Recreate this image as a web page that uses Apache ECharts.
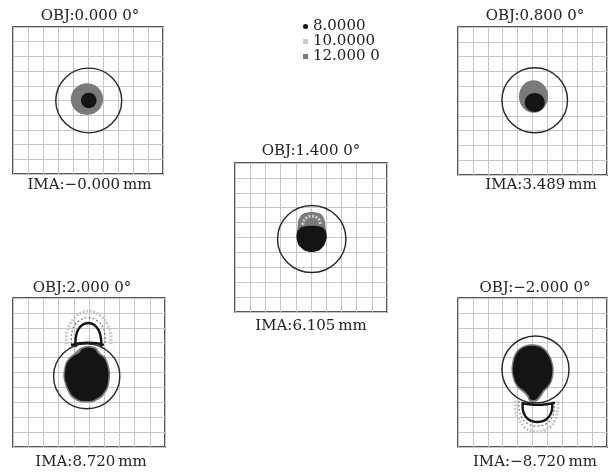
<!DOCTYPE html>
<html>
<head>
<meta charset="utf-8">
<script src="https://cdn.jsdelivr.net/npm/echarts@6/dist/echarts.min.js"></script>
<style>
  html, body { margin: 0; padding: 0; background: #fff; }
  #chart { width: 613px; height: 473px; }
</style>
</head>
<body>
<div id="chart"></div>
<script>
// ---- spot diagram data (units: µm on the image plane) ----
const fieldTitles = ['OBJ:0.000 0°', 'OBJ:0.800 0°', 'OBJ:1.400 0°', 'OBJ:2.000 0°', 'OBJ:\u22122.000 0°'];
const imageHeights = ['IMA:\u22120.000\u2009mm', 'IMA:3.489\u2009mm', 'IMA:6.105\u2009mm', 'IMA:8.720\u2009mm', 'IMA:\u22128.720\u2009mm'];
const wavelengths = ['8.0000', '10.0000', '12.000 0'];
const axisRange = [-50, 50];
const axisStep = 10;

// Airy disk per field: [cx, cy, radius]
const airyDisk = [[0.5, 0, 22], [1.5, 0.5, 22], [0.5, -1, 22.5], [-1.5, -2.5, 21.8], [2, 2, 22.5]];

// Spot shapes per field: ['disk', cx, cy, rx, ry] | ['fill', outline] | ['trace', ray path]
const spots8 = [
  [['disk', 0.5, 0, 5.2, 5.2]],
  [['disk', 1.5, -1, 6.7, 6.4]],
  [['fill', [[0.5, -9.7], [5.5, -8.5], [8.8, -5], [10.3, 0], [9.8, 4], [7.5, 6.8], [3.5, 7.8], [-2.5, 7.8], [-6.5, 6.8], [-9, 4], [-9.5, 0], [-8.2, -5], [-4.5, -8.5]]]],
  [['fill', [[-0.4, 16.8], [3.8, 15.8], [5.5, 13.3], [7.2, 11.8], [9.8, 9.8], [11.6, 6], [12.9, -0.5], [11.8, -9.6], [8, -15.5], [3, -18.6], [-1.5, -19.2], [-6.3, -18.6], [-11, -15.5], [-13.8, -10.6], [-16, -2.8], [-14.6, 6], [-11.8, 9.8], [-9, 11.8], [-6.3, 13.3], [-4.6, 15.8]]],
   ['trace', [[-8.8, 17], [-8.8, 23], [-7.4, 28.3], [-4.3, 32], [-0.5, 33.2], [3.3, 32], [6.4, 28.3], [7.9, 23], [7.9, 17]]],
   ['trace', [[-11.8, 18.3], [-6, 19.6], [-0.5, 20], [5, 19.6], [9.8, 18.5]]]],
  [['fill', [[-0.5, 18], [4.5, 17.2], [8.5, 14.2], [11.5, 9.5], [13.2, 3.9], [13.2, -1], [11.9, -6.2], [9.7, -9.5], [7.2, -11.7], [5, -15.1], [2.5, -18], [0.5, -18.5], [-1.5, -18], [-2.8, -15.1], [-6.2, -11.7], [-9.2, -9.5], [-11.4, -6.2], [-12.9, -1], [-13.2, 2.8], [-12, 9.5], [-9.5, 14.2], [-5, 17.2]]],
   ['trace', [[-6.5, -20], [-6.5, -25], [-4.7, -29.5], [-1, -32.5], [3.3, -33.2], [7.5, -32.5], [11.2, -29.5], [13.1, -25], [13.1, -20]]],
   ['trace', [[-7.2, -20.5], [-1, -21.5], [4, -21.7], [9.5, -21.3], [15, -20.3]]]]
];
const spots10 = [
  [['disk', 0, 0.5, 9, 9]],
  [['disk', 1, 1.5, 8.5, 9.5]],
  [['trace', [[-5.5, 8.5], [-4, 12.3], [0.5, 14.3], [5, 12.3], [6.2, 8.5]]]],
  [['trace', [[-14.8, 19], [-14.8, 26], [-12.6, 32.3], [-8.4, 37.8], [-3.7, 40.6], [-0.5, 41.3], [3.2, 40.6], [7.9, 37.8], [12.1, 32.3], [14.3, 26], [14.3, 19]]]],
  [['trace', [[-11.5, -19], [-11.5, -25], [-9.5, -31], [-5.5, -36.5], [-1, -39], [3, -39.8], [7.5, -39], [12, -36.5], [15.5, -31], [17, -25], [17, -19]]]]
];
const spots12 = [
  [['disk', -0.7, 1, 10.8, 10.8]],
  [['disk', 0.7, 3, 9.8, 11]],
  [['fill', [[-8.5, -3], [-8.8, 8], [-8, 12.5], [-5.5, 15.8], [0.5, 17.2], [6.5, 15.8], [8.7, 12.5], [9.5, 8], [9.3, -3]]]],
  [['fill', [[-0.4, 18], [4.6, 16.8], [7.5, 13], [10.7, 10.5], [12.5, 6.3], [13.9, -0.5], [12.7, -10], [8.7, -16.4], [3.2, -19.6], [-1.5, -20.2], [-6.8, -19.5], [-11.8, -16.2], [-14.7, -11], [-16.9, -2.8], [-15.5, 6.3], [-12.5, 10.5], [-9.6, 13], [-5.3, 16.8]]],
   ['trace', [[-11.5, 19], [-11.5, 25], [-10, 30.8], [-6.3, 34.8], [-0.5, 36.8], [5.3, 34.8], [9, 30.8], [10.5, 25], [10.5, 19]]]],
  [['fill', [[-0.5, 19], [5, 18.2], [9.3, 15], [12.4, 10], [14.1, 4], [14.1, -1], [12.8, -6.5], [10.5, -10.3], [8, -12.8], [6, -16], [3, -19.3], [-2, -19.3], [-3.8, -16], [-7, -12.8], [-10, -10.3], [-12.3, -6.5], [-13.8, -1], [-14.1, 3], [-12.9, 10], [-10.3, 15], [-5.3, 18.2]]],
   ['trace', [[-9, -19], [-9, -25], [-7, -30.5], [-3, -34.5], [3, -36], [9, -34.5], [13, -30.5], [14.5, -25], [14.5, -19]]]]
];

// ---- layout and styling ----
const panelBoxes = [[13, 27, 150, 147], [458, 27, 149, 148], [235, 163, 152, 149], [13, 298, 152, 149], [458, 298, 149, 149]];
const titleAnchors = [[90, 9], [535, 9], [311, 144], [82, 281], [535, 281]];
const labelAnchors = [[89.5, 178], [541, 178], [311, 319], [91, 455], [535, 455]];
const wlColors = ['#141414', '#cacaca', '#7a7a7a'];
const traceWidth = [2.4, 3, 1.2];
const traceDash = [null, [2, 1.5], [2, 2]];
const FONT = 'DejaVu Serif';

const spotSets = [spots8, spots10, spots12];

function spotRenderer(shapes, color, wi) {
  return function (params, api) {
    const s = shapes[params.dataIndex];
    if (s[0] === 'disk') {
      const c = api.coord([s[1], s[2]]);
      const sz = api.size([s[3], s[4]]);
      return { type: 'ellipse', shape: { cx: c[0], cy: c[1], rx: sz[0], ry: sz[1] }, style: { fill: color } };
    }
    const pts = s[1].map(p => api.coord(p));
    if (s[0] === 'fill') {
      return { type: 'polygon', shape: { points: pts, smooth: 0.25 }, style: { fill: color } };
    }
    return {
      type: 'polyline',
      shape: { points: pts, smooth: 0.4 },
      style: { fill: null, stroke: color, lineWidth: traceWidth[wi], lineDash: traceDash[wi] }
    };
  };
}

function airyRenderer(params, api) {
  const c = api.coord([api.value(0), api.value(1)]);
  const sz = api.size([api.value(2), api.value(2)]);
  return {
    type: 'ellipse',
    shape: { cx: c[0], cy: c[1], rx: sz[0], ry: sz[1] },
    style: { fill: null, stroke: '#262626', lineWidth: 1.4 }
  };
}

const grids = [], xAxes = [], yAxes = [], series = [], titles = [];
const axisBase = {
  type: 'value', min: axisRange[0], max: axisRange[1], interval: axisStep,
  axisLine: { show: false }, axisTick: { show: false }, axisLabel: { show: false },
  splitLine: { show: true, lineStyle: { color: '#c6c6c6', width: 1 } }
};

panelBoxes.forEach((b, k) => {
  grids.push({ left: b[0], top: b[1], width: b[2], height: b[3], show: true,
    borderColor: '#222', borderWidth: 1.5, backgroundColor: 'transparent' });
  xAxes.push(Object.assign({ gridIndex: k }, axisBase));
  yAxes.push(Object.assign({ gridIndex: k }, axisBase));

  titles.push({ text: fieldTitles[k], left: titleAnchors[k][0], top: titleAnchors[k][1], textAlign: 'center', padding: 0,
    textStyle: { fontFamily: FONT, fontSize: 15, fontWeight: 'normal', color: '#222' } });
  titles.push({ text: imageHeights[k], left: labelAnchors[k][0], top: labelAnchors[k][1], textAlign: 'center', padding: 0,
    textStyle: { fontFamily: FONT, fontSize: 15, fontWeight: 'normal', color: '#222' } });

  spotSets.forEach((set, wi) => {
    const shapes = set[k];
    const diskOnly = shapes.every(s => s[0] === 'disk');
    const z = wi === 1 && diskOnly ? 1 : [4, 3, 2][wi];
    series.push({
      type: 'custom', name: wavelengths[wi], xAxisIndex: k, yAxisIndex: k,
      data: shapes.map(() => [0, 0]),
      encode: { x: 0, y: 1 },
      renderItem: spotRenderer(shapes, wlColors[wi], wi),
      itemStyle: { color: wlColors[wi] },
      z: z, silent: true
    });
  });

  series.push({
    type: 'custom', name: 'Airy', xAxisIndex: k, yAxisIndex: k,
    data: [airyDisk[k]], encode: { x: 0, y: 1 },
    renderItem: airyRenderer, z: 6, silent: true
  });
});

const chart = echarts.init(document.getElementById('chart'), null, { renderer: 'canvas' });
chart.setOption({
  animation: false,
  backgroundColor: '#fff',
  title: titles,
  legend: {
    orient: 'vertical', left: 303, top: 19, padding: 0,
    itemWidth: 5, itemHeight: 5, itemGap: 0,
    data: [{ name: wavelengths[0], icon: 'circle' }, { name: wavelengths[1], icon: 'rect' }, { name: wavelengths[2], icon: 'rect' }],
    textStyle: { fontFamily: FONT, fontSize: 15, lineHeight: 12.5, color: '#222' },
    selectedMode: false
  },
  grid: grids,
  xAxis: xAxes,
  yAxis: yAxes,
  series: series
});
</script>
</body>
</html>
